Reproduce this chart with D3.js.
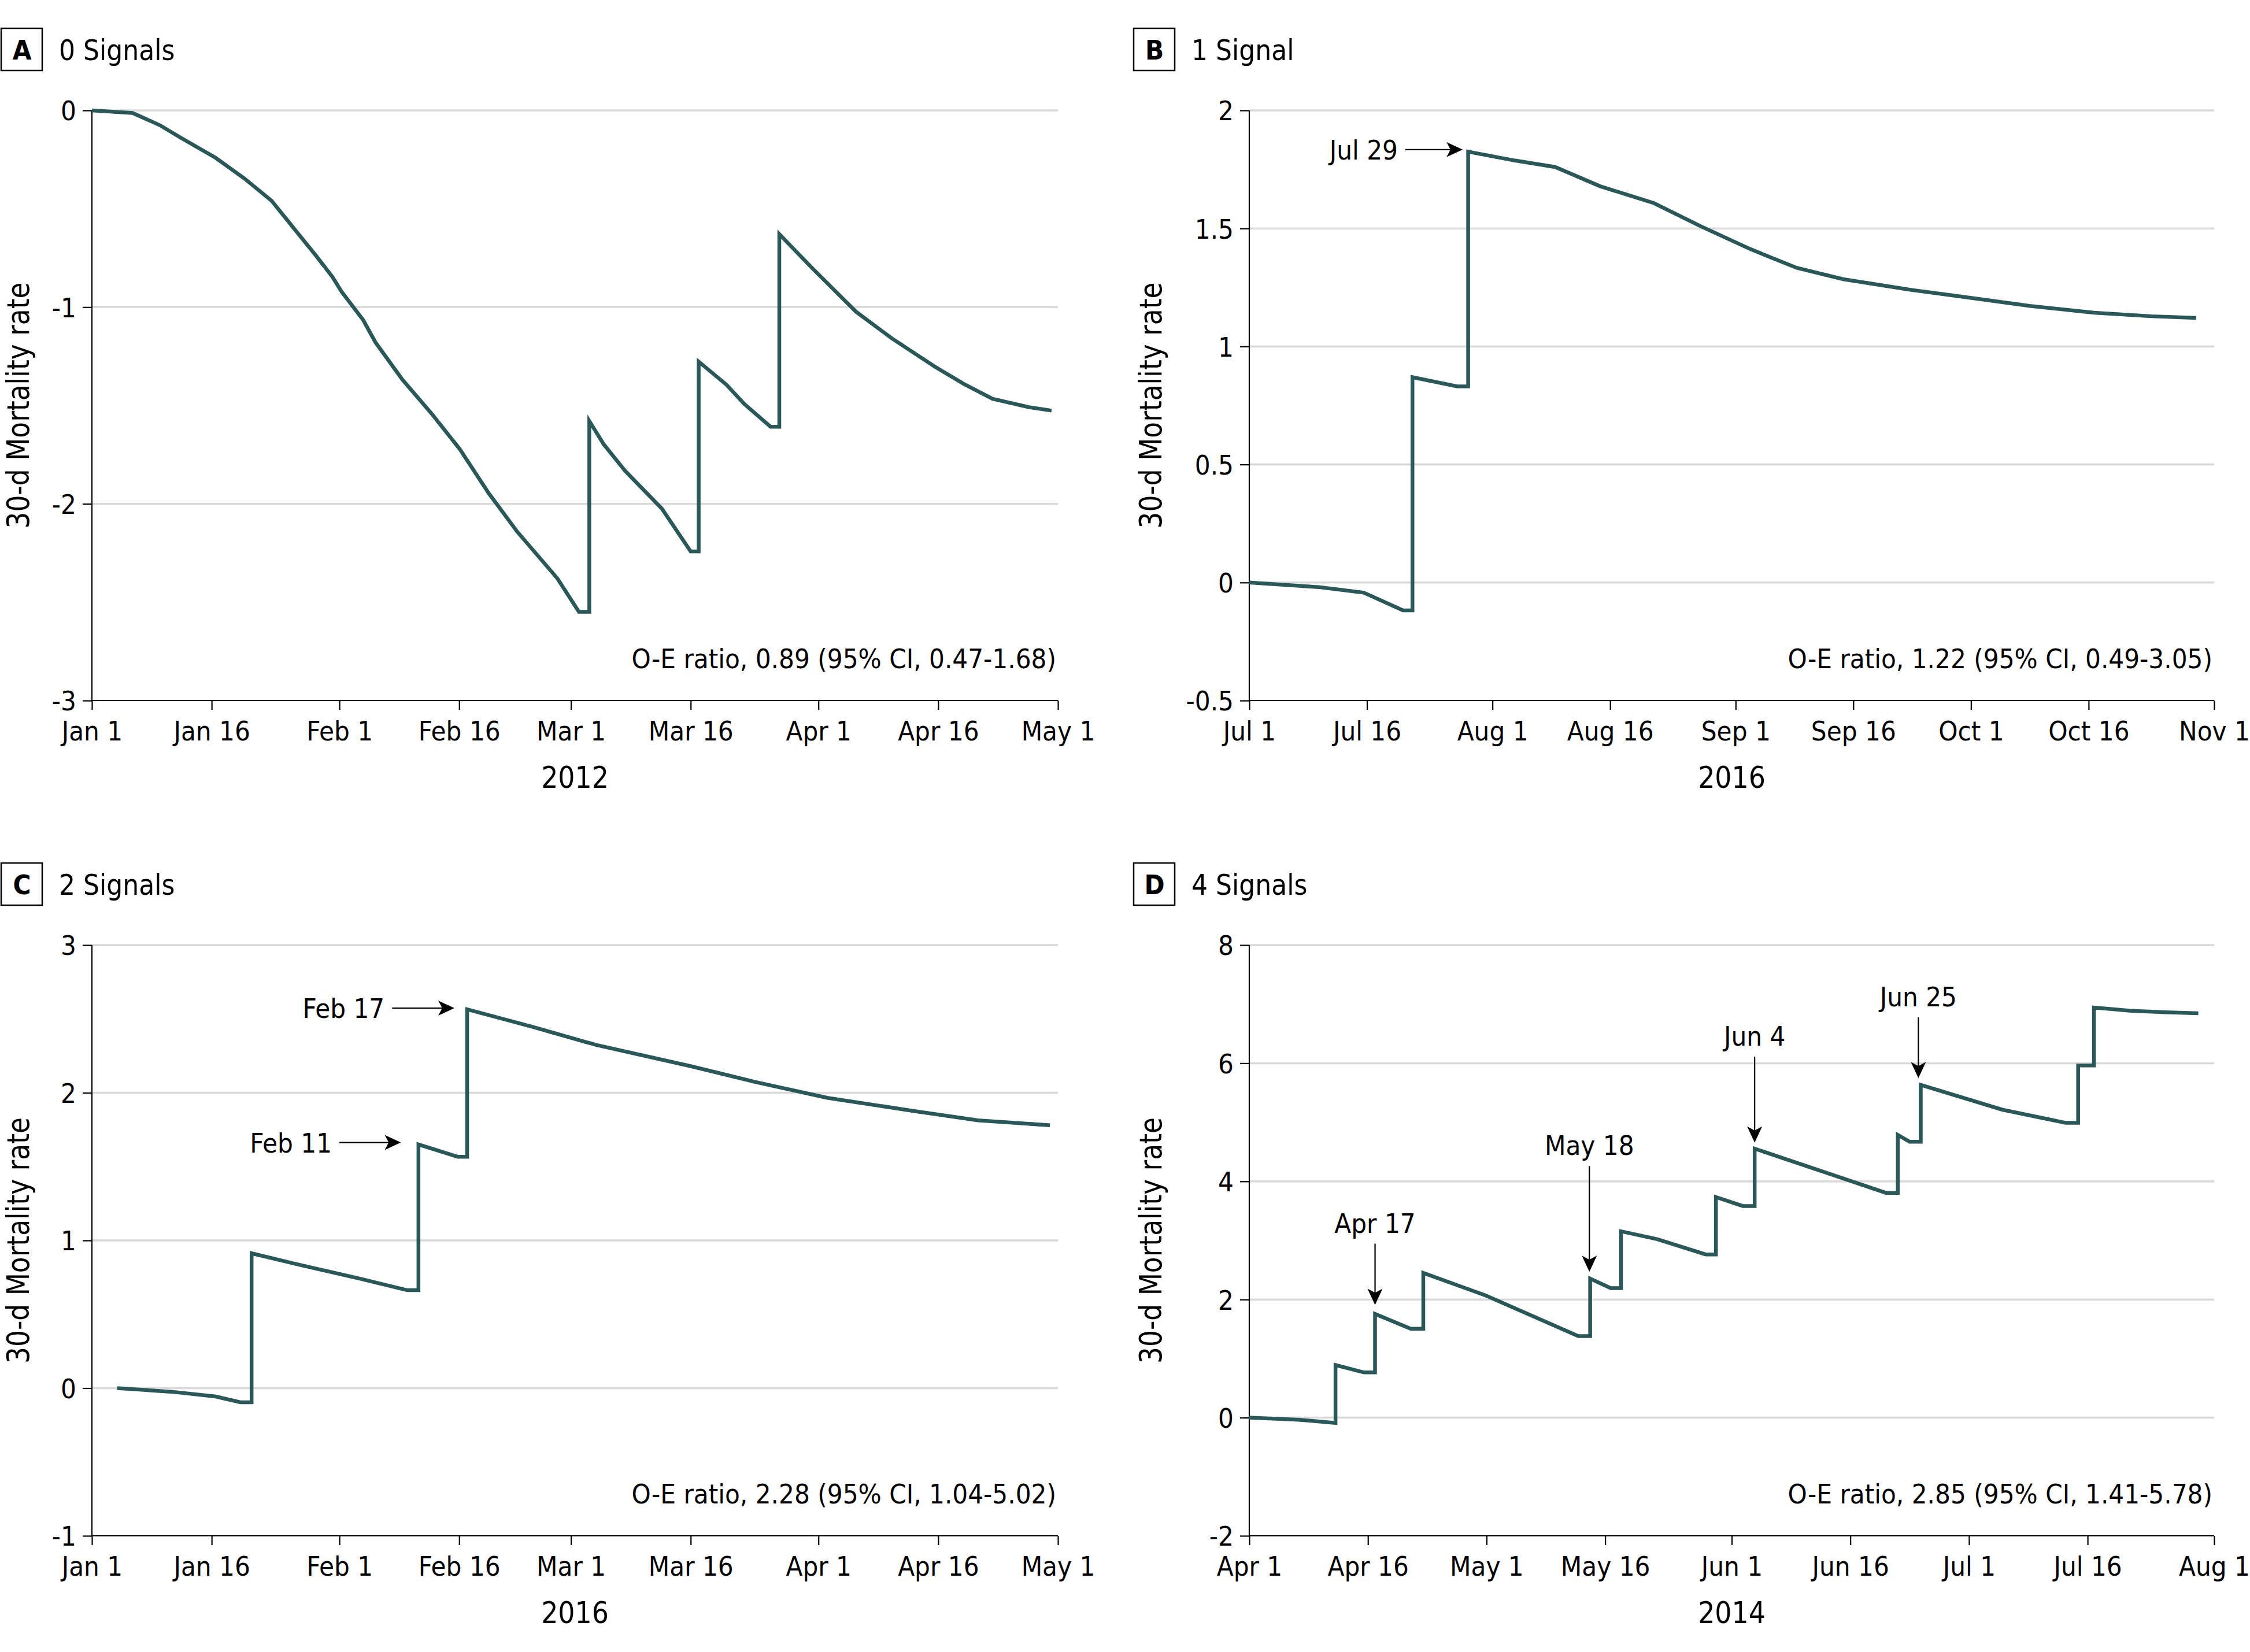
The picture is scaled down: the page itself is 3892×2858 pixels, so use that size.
<!DOCTYPE html>
<html>
<head>
<meta charset="utf-8">
<script src="https://cdn.jsdelivr.net/npm/d3@7"></script>
<style>
  html, body { margin: 0; padding: 0; background: #ffffff; }
  svg { display: block; }
  .cond { font-family: "DejaVu Sans Condensed", "DejaVu Sans", sans-serif; font-stretch: condensed; }
</style>
</head>
<body>
<svg id="chart" width="3892" height="2858"></svg>
<script>
// ---------------- DATA ----------------
// Panel A – 0 signals (2012), days since Jan 1
const startA = "2012-01-01", endA = "2012-05-01";
const daysA = [0, 5.1, 8.5, 11, 15.5, 19.1, 22.5, 28.1, 30.1, 31.3, 34.0, 35.5, 38.9, 42.5, 46.1, 49.7, 53.3, 58.3, 61.0, 62.3, 62.3, 64.1, 66.8, 71.4, 75.0, 76.0, 76.0, 79.5, 81.7, 85.0, 86.1, 86.1, 90.3, 95.7, 100.2, 105.6, 109.2, 112.8, 117.3, 120.2];
const valuesA = [0, -0.013, -0.075, -0.136, -0.241, -0.346, -0.459, -0.74, -0.845, -0.923, -1.067, -1.178, -1.369, -1.539, -1.723, -1.946, -2.143, -2.379, -2.549, -2.549, -1.579, -1.697, -1.833, -2.025, -2.242, -2.242, -1.277, -1.395, -1.492, -1.608, -1.608, -0.629, -0.805, -1.023, -1.159, -1.303, -1.39, -1.466, -1.508, -1.526];
const yTicksA = [0, -1, -2, -3];

// Panel B – 1 signal (2016), days since Jul 1
const startB = "2016-07-01", endB = "2016-11-01";
const daysB = [0, 9.1, 14.6, 19.6, 20.8, 20.8, 26.5, 27.9, 27.9, 33.8, 39.0, 44.7, 51.6, 57.5, 63.9, 69.8, 75.7, 83.9, 92.2, 99.5, 107.7, 115.0, 120.7];
const valuesB = [0, -0.02, -0.043, -0.118, -0.118, 0.87, 0.831, 0.831, 1.825, 1.788, 1.76, 1.679, 1.607, 1.51, 1.412, 1.333, 1.285, 1.242, 1.205, 1.172, 1.143, 1.128, 1.121];
const yTicksB = [2, 1.5, 1, 0.5, 0, -0.5];

// Panel C – 2 signals (2016), days since Jan 1
const startC = "2016-01-01", endC = "2016-05-01";
const daysC = [3.15, 10.1, 15.5, 18.6, 20.0, 20.0, 26.3, 33.5, 39.5, 40.9, 40.9, 45.8, 47.0, 47.0, 55.1, 63.2, 75.0, 83.1, 92.1, 102.9, 111.0, 120.0];
const valuesC = [0, -0.025, -0.057, -0.096, -0.096, 0.913, 0.831, 0.742, 0.663, 0.663, 1.65, 1.567, 1.567, 2.565, 2.448, 2.323, 2.18, 2.073, 1.966, 1.877, 1.813, 1.78];
const yTicksC = [3, 2, 1, 0, -1];

// Panel D – 4 signals (2014), days since Apr 1
const startD = "2014-04-01", endD = "2014-08-01";
const daysD = [0, 6.3, 10.9, 10.9, 14.5, 15.9, 15.9, 20.4, 22.0, 22.0, 29.9, 41.6, 43.1, 43.1, 45.7, 47.0, 47.0, 51.6, 57.7, 59.0, 59.0, 62.4, 63.9, 63.9, 80.5, 82.0, 82.0, 83.5, 84.9, 84.9, 95.2, 103.2, 104.8, 104.8, 106.8, 106.8, 111.3, 115.8, 120.0];
const valuesD = [0, -0.036, -0.089, 0.891, 0.766, 0.766, 1.756, 1.506, 1.506, 2.451, 2.068, 1.381, 1.381, 2.353, 2.193, 2.193, 3.155, 3.021, 2.763, 2.763, 3.734, 3.583, 3.583, 4.554, 3.806, 3.806, 4.786, 4.67, 4.67, 5.633, 5.214, 4.991, 4.991, 5.963, 5.963, 6.943, 6.889, 6.862, 6.845];
const yTicksD = [8, 6, 4, 2, 0, -2];

// Panel texts
const panelLetters = ["A", "B", "C", "D"];
const panelTitles = ["0 Signals", "1 Signal", "2 Signals", "4 Signals"];
const panelYears = ["2012", "2016", "2016", "2014"];
const oeTexts = [
  "O-E ratio, 0.89 (95% CI, 0.47-1.68)",
  "O-E ratio, 1.22 (95% CI, 0.49-3.05)",
  "O-E ratio, 2.28 (95% CI, 1.04-5.02)",
  "O-E ratio, 2.85 (95% CI, 1.41-5.78)"
];
const yAxisTitle = "30-d Mortality rate";

// Annotations (horizontal arrows: tip day/value, tail day)
const annotLabelsB = ["Jul 29"];
const annotTipDaysB = [27.2];
const annotTipValuesB = [1.834];
const annotTailDaysB = [19.9];

const annotLabelsC = ["Feb 17", "Feb 11"];
const annotTipDaysC = [45.4, 38.7];
const annotTipValuesC = [2.573, 1.663];
const annotTailDaysC = [37.6, 31.0];

// Annotations (vertical arrows: day, tip value, tail value)
const annotLabelsD = ["Apr 17", "May 18", "Jun 4", "Jun 25"];
const annotDaysD = [15.9, 43.0, 63.9, 84.6];
const annotTipValuesD = [1.908, 2.47, 4.655, 5.747];
const annotTailValuesD = [2.946, 4.259, 6.110, 6.776];

// ---------------- LAYOUT ----------------
const layout = [
  { x0: 159, x1: 1830, y0: 191, y1: 1212, boxX: 1, boxY: 49 },
  { x0: 2161, x1: 3830, y0: 191, y1: 1212, boxX: 1960, boxY: 49 },
  { x0: 159, x1: 1830, y0: 1635, y1: 2657, boxX: 1, boxY: 1493 },
  { x0: 2161, x1: 3830, y0: 1635, y1: 2657, boxX: 1960, boxY: 1493 }
];
const FS = 47;
const LINE_COLOR = "#2a5757";
const GRID_COLOR = "#d9d9d9";

const panelsData = [
  { start: startA, end: endA, days: daysA, values: valuesA, yTicks: yTicksA },
  { start: startB, end: endB, days: daysB, values: valuesB, yTicks: yTicksB },
  { start: startC, end: endC, days: daysC, values: valuesC, yTicks: yTicksC },
  { start: startD, end: endD, days: daysD, values: valuesD, yTicks: yTicksD }
];

const parse = d3.utcParse("%Y-%m-%d");
const fmtDate = d3.utcFormat("%b %-d");
const fmtY = v => (v < 0 ? "-" : "") + String(Math.abs(v));

const svg = d3.select("#chart");
svg.append("rect").attr("width", 3892).attr("height", 2858).attr("fill", "#fff");

function arrowHead(g, x, y, angleDeg) {
  g.append("path")
    .attr("d", "M0,0 L-28,-13 L-21,0 L-28,13 Z")
    .attr("transform", `translate(${x},${y}) rotate(${angleDeg})`)
    .attr("fill", "#000");
}

const scales = [];

panelsData.forEach((p, i) => {
  const L = layout[i];
  const start = parse(p.start), end = parse(p.end);
  const toDate = d => new Date(+start + d * 864e5);
  const x = d3.scaleUtc().domain([start, end]).range([L.x0, L.x1]);
  const yExt = d3.extent(p.yTicks);
  const y = d3.scaleLinear().domain(yExt).range([L.y1, L.y0]);
  scales.push({ x, y, toDate });

  const g = svg.append("g");

  // gridlines
  g.selectAll("line.grid").data(p.yTicks.filter(t => t !== yExt[0])).join("line")
    .attr("class", "grid")
    .attr("x1", L.x0).attr("x2", L.x1)
    .attr("y1", d => y(d)).attr("y2", d => y(d))
    .attr("stroke", GRID_COLOR).attr("stroke-width", 3.5);

  // y axis
  const yAxis = d3.axisLeft(y).tickValues(p.yTicks).tickSize(16).tickPadding(11).tickFormat(fmtY);
  const ya = g.append("g").attr("transform", `translate(${L.x0},0)`).call(yAxis);
  ya.select(".domain").remove();
  ya.selectAll(".tick line").attr("stroke", "#000").attr("stroke-width", 2.2);
  ya.selectAll(".tick text").attr("class", "cond").attr("font-size", FS).attr("fill", "#000")
    .attr("dy", null).attr("y", FS * 0.36);

  // x axis
  const xTicks = d3.utcDay.range(start, d3.utcDay.offset(end, 1))
    .filter(d => d.getUTCDate() === 1 || d.getUTCDate() === 16);
  const xAxis = d3.axisBottom(x).tickValues(xTicks).tickSize(16).tickPadding(0).tickFormat(fmtDate);
  const xa = g.append("g").attr("transform", `translate(0,${L.y1})`).call(xAxis);
  xa.select(".domain").remove();
  xa.selectAll(".tick line").attr("stroke", "#000").attr("stroke-width", 2.2);
  xa.selectAll(".tick text").attr("class", "cond").attr("font-size", FS).attr("fill", "#000")
    .attr("dy", null).attr("y", 69);

  // axis lines
  g.append("line").attr("x1", L.x0).attr("x2", L.x0).attr("y1", L.y0).attr("y2", L.y1)
    .attr("stroke", "#000").attr("stroke-width", 2.2);
  g.append("line").attr("x1", L.x0).attr("x2", L.x1).attr("y1", L.y1).attr("y2", L.y1)
    .attr("stroke", "#000").attr("stroke-width", 2.2);

  // data line
  const pts = p.days.map((d, k) => ({ date: toDate(d), value: p.values[k] }));
  const line = d3.line().x(d => x(d.date)).y(d => y(d.value));
  g.append("path").datum(pts).attr("d", line)
    .attr("fill", "none").attr("stroke", LINE_COLOR).attr("stroke-width", 6.5)
    .attr("stroke-linejoin", "miter").attr("stroke-miterlimit", 10);

  // title box
  g.append("rect").attr("x", L.boxX + 1).attr("y", L.boxY).attr("width", 71).attr("height", 73)
    .attr("fill", "none").attr("stroke", "#000").attr("stroke-width", 2.5);
  g.append("text").attr("class", "cond").attr("x", L.boxX + 37).attr("y", L.boxY + 54)
    .attr("text-anchor", "middle").attr("font-size", 47).attr("font-weight", "bold")
    .text(panelLetters[i]);
  g.append("text").attr("class", "cond").attr("x", L.boxX + 101).attr("y", L.boxY + 55)
    .attr("font-size", 49).text(panelTitles[i]);

  // y axis title
  const cy = (L.y0 + L.y1) / 2;
  g.append("text").attr("transform", `translate(${L.boxX + 49},${cy}) rotate(-90)`)
    .attr("text-anchor", "middle").attr("font-family", "DejaVu Sans, sans-serif")
    .attr("font-size", 53).attr("textLength", 426).attr("lengthAdjust", "spacingAndGlyphs")
    .text(yAxisTitle);

  // year label
  g.append("text").attr("class", "cond").attr("x", (L.x0 + L.x1) / 2).attr("y", L.y1 + 151)
    .attr("text-anchor", "middle").attr("font-size", 51).text(panelYears[i]);

  // O-E text
  g.append("text").attr("class", "cond").attr("x", L.x1 - 3).attr("y", L.y1 - 56)
    .attr("text-anchor", "end").attr("font-size", FS).text(oeTexts[i]);
});

// horizontal annotations
function hAnnot(pi, labels, tipDays, tipVals, tailDays) {
  const { x, y, toDate } = scales[pi];
  const g = svg.append("g");
  labels.forEach((lab, k) => {
    const tx = x(toDate(tipDays[k])), ty = y(tipVals[k]);
    const sx = x(toDate(tailDays[k]));
    g.append("line").attr("x1", sx).attr("x2", tx - 18).attr("y1", ty).attr("y2", ty)
      .attr("stroke", "#000").attr("stroke-width", 2.2);
    arrowHead(g, tx, ty, 0);
    g.append("text").attr("class", "cond").attr("x", sx - 13).attr("y", ty + 17)
      .attr("text-anchor", "end").attr("font-size", FS).text(lab);
  });
}
hAnnot(1, annotLabelsB, annotTipDaysB, annotTipValuesB, annotTailDaysB);
hAnnot(2, annotLabelsC, annotTipDaysC, annotTipValuesC, annotTailDaysC);

// vertical annotations
(function () {
  const { x, y, toDate } = scales[3];
  const g = svg.append("g");
  annotLabelsD.forEach((lab, k) => {
    const ax = x(toDate(annotDaysD[k]));
    const tipY = y(annotTipValuesD[k]), tailY = y(annotTailValuesD[k]);
    g.append("line").attr("x1", ax).attr("x2", ax).attr("y1", tailY).attr("y2", tipY - 18)
      .attr("stroke", "#000").attr("stroke-width", 2.2);
    arrowHead(g, ax, tipY, 90);
    g.append("text").attr("class", "cond").attr("x", ax).attr("y", tailY - 19)
      .attr("text-anchor", "middle").attr("font-size", FS).text(lab);
  });
})();
</script>
</body>
</html>
